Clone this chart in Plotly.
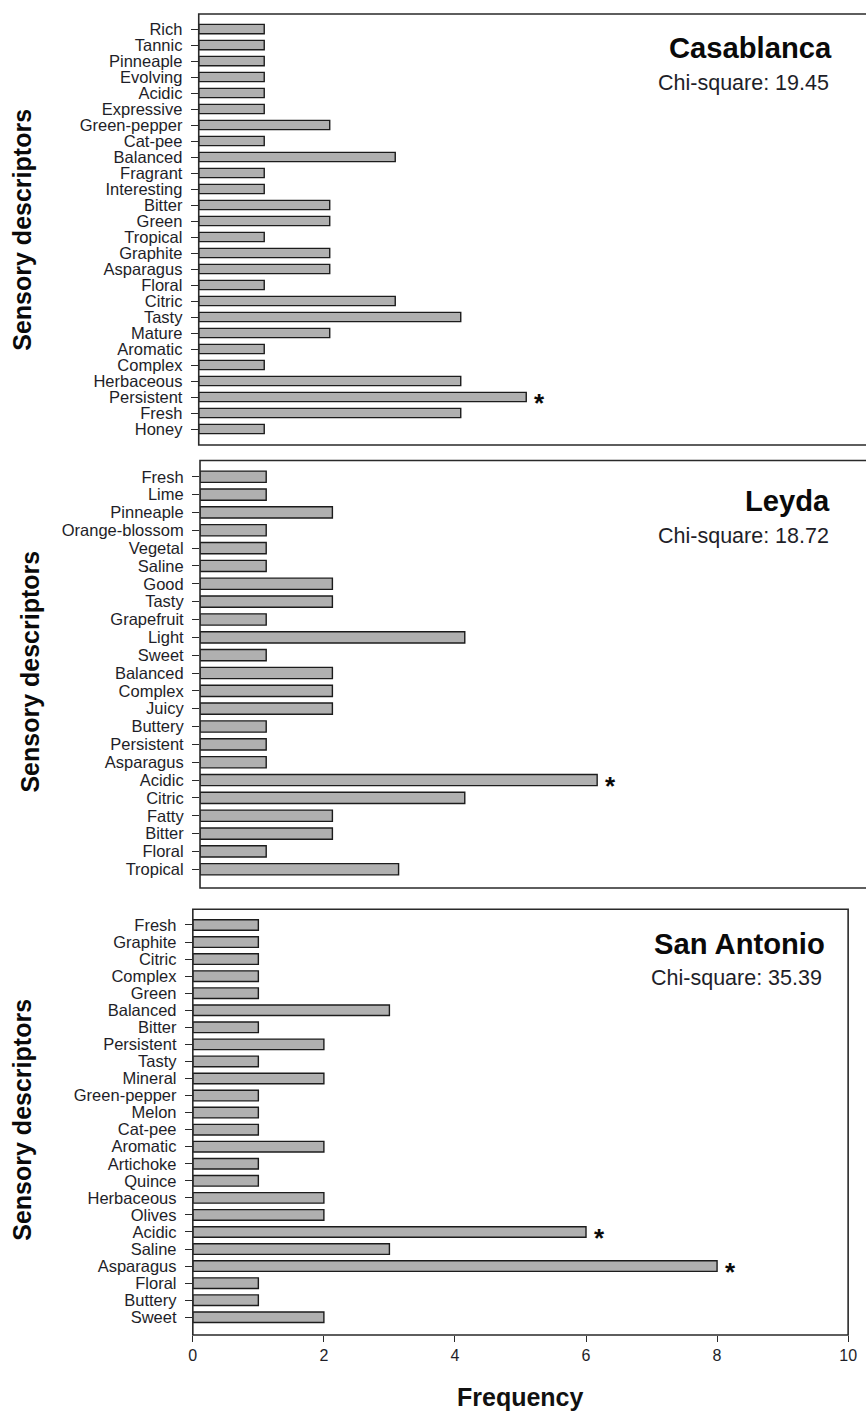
import plotly.graph_objects as go

W, H = 866, 1412

# Casablanca descriptors (top to bottom) and their frequencies
casablanca_terms = ["Rich", "Tannic", "Pinneaple", "Evolving", "Acidic", "Expressive",
                    "Green-pepper", "Cat-pee", "Balanced", "Fragrant", "Interesting",
                    "Bitter", "Green", "Tropical", "Graphite", "Asparagus", "Floral",
                    "Citric", "Tasty", "Mature", "Aromatic", "Complex", "Herbaceous",
                    "Persistent", "Fresh", "Honey"]
casablanca_freq = [1, 1, 1, 1, 1, 1, 2, 1, 3, 1, 1, 2, 2, 1, 2, 2, 1, 3, 4, 2, 1, 1, 4, 5, 4, 1]
casablanca_sig = ["Persistent"]

# Leyda descriptors
leyda_terms = ["Fresh", "Lime", "Pinneaple", "Orange-blossom", "Vegetal", "Saline", "Good",
               "Tasty", "Grapefruit", "Light", "Sweet", "Balanced", "Complex", "Juicy",
               "Buttery", "Persistent", "Asparagus", "Acidic", "Citric", "Fatty", "Bitter",
               "Floral", "Tropical"]
leyda_freq = [1, 1, 2, 1, 1, 1, 2, 2, 1, 4, 1, 2, 2, 2, 1, 1, 1, 6, 4, 2, 2, 1, 3]
leyda_sig = ["Acidic"]

# San Antonio descriptors
sanantonio_terms = ["Fresh", "Graphite", "Citric", "Complex", "Green", "Balanced", "Bitter",
                    "Persistent", "Tasty", "Mineral", "Green-pepper", "Melon", "Cat-pee",
                    "Aromatic", "Artichoke", "Quince", "Herbaceous", "Olives", "Acidic",
                    "Saline", "Asparagus", "Floral", "Buttery", "Sweet"]
sanantonio_freq = [1, 1, 1, 1, 1, 3, 1, 2, 1, 2, 1, 1, 1, 2, 1, 1, 2, 2, 6, 3, 8, 1, 1, 2]
sanantonio_sig = ["Acidic", "Asparagus"]

regions = ["Casablanca", "Leyda", "San Antonio"]
chi_square = ["19.45", "18.72", "35.39"]
x_ticks = [0, 2, 4, 6, 8, 10]


def px_x(v):
    return min(v / W, 1.0)


def px_y(v):
    return 1 - v / H


# panel geometry in pixels: left, right, top, bottom, px per unit, paddings, bar width
panels = [
    dict(terms=casablanca_terms, freq=casablanca_freq, sig=casablanca_sig,
         left=197.7, right=None, top=14, bottom=445, ppu=66.5,
         pt=0.94, pb=1.0, bw=0.58, cut=True,
         title_y=48, chi_y=83, title_r=843, chi_r=840, lab_x=18, lab_y=230),
    dict(terms=leyda_terms, freq=leyda_freq, sig=leyda_sig,
         left=199, right=None, top=460.5, bottom=888, ppu=67.2,
         pt=0.91, pb=1.05, bw=0.63, cut=True,
         title_y=501, chi_y=536, title_r=841, chi_r=840, lab_x=26, lab_y=672),
    dict(terms=sanantonio_terms, freq=sanantonio_freq, sig=sanantonio_sig,
         left=191.7, right=857, top=909.3, bottom=1335, ppu=66.53,
         pt=0.92, pb=1.04, bw=0.62, cut=False,
         title_y=944, chi_y=978, title_r=836, chi_r=833, lab_x=18, lab_y=1120),
]

FONT = "Liberation Sans, Arial, sans-serif"
LINE = "#2a2a2a"

fig = go.Figure()
layout = dict(width=W, height=H, margin=dict(l=0, r=0, t=0, b=0, pad=0),
              paper_bgcolor="white", plot_bgcolor="white", showlegend=False,
              font=dict(family=FONT, color="#1e1e28"))
annotations = []
shapes = []

for i, p in enumerate(panels):
    n = i + 1
    xa = "x" if n == 1 else f"x{n}"
    ya = "y" if n == 1 else f"y{n}"
    fig.add_trace(go.Bar(
        x=p["freq"], y=p["terms"], orientation="h", xaxis=xa, yaxis=ya,
        width=p["bw"], marker=dict(color="#b0b0b0", line=dict(color="#1c1c1c", width=1.4)),
        hoverinfo="x+y",
    ))
    last = n == 3
    d0 = px_x(p["left"])
    d1 = 1.0 if p["right"] is None else px_x(p["right"])
    xmax = 10 if last else (d1 - d0) * W / p["ppu"]
    layout["xaxis" if n == 1 else f"xaxis{n}"] = dict(
        domain=[d0, d1], range=[0, xmax],
        anchor=ya, showgrid=False, zeroline=False, showline=False,
        showticklabels=last, ticks="outside" if last else "",
        ticklen=6, tickwidth=1.4, tickcolor=LINE,
        tickmode="array", tickvals=x_ticks, ticktext=[str(t) for t in x_ticks],
        tickfont=dict(size=16, color="#1e1e28"), ticklabeloverflow="allow",
        fixedrange=True,
    )
    nt = len(p["terms"])
    layout["yaxis" if n == 1 else f"yaxis{n}"] = dict(
        domain=[px_y(p["bottom"]), px_y(p["top"])],
        type="category", categoryorder="array", categoryarray=p["terms"],
        tickmode="array", tickvals=p["terms"], ticktext=p["terms"],
        range=[nt - 1 + p["pb"], -p["pt"]], anchor=xa,
        showgrid=False, zeroline=False, showline=False,
        ticks="outside", ticklen=7, tickwidth=1.4, tickcolor=LINE,
        tickfont=dict(size=16.5, color="#1e1e28"), ticklabelstandoff=5,
        fixedrange=True,
    )
    # panel frame
    x1 = 1.03 if p["cut"] else d1
    shapes.append(dict(type="rect", xref="paper", yref="paper",
                       x0=d0, x1=x1, y0=px_y(p["bottom"]), y1=px_y(p["top"]),
                       line=dict(color=LINE, width=1.6), fillcolor="rgba(0,0,0,0)", layer="above"))
    # region name and chi-square
    annotations.append(dict(text=f"<b>{regions[i]}</b>", xref="paper", yref="paper",
                            x=px_x(p["title_r"]), y=px_y(p["title_y"]), xanchor="right",
                            yanchor="middle", showarrow=False,
                            font=dict(size=29.2, color="#0a0a0a")))
    annotations.append(dict(text=f"Chi-square: {chi_square[i]}", xref="paper", yref="paper",
                            x=px_x(p["chi_r"]), y=px_y(p["chi_y"]), xanchor="right",
                            yanchor="middle", showarrow=False,
                            font=dict(size=21.5, color="#1e1e28")))
    # y-axis label
    annotations.append(dict(text="<b>Sensory descriptors</b>", xref="paper", yref="paper",
                            x=px_x(p["lab_x"]), y=px_y(p["lab_y"]), xanchor="center",
                            yanchor="middle", textangle=-90, showarrow=False,
                            font=dict(size=25, color="#0a0a0a")))
    # significance markers
    for term, f in zip(p["terms"], p["freq"]):
        if term in p["sig"]:
            annotations.append(dict(text="<b>*</b>", xref=xa, yref=ya, x=f, y=term,
                                    xanchor="center", yanchor="middle", xshift=13, yshift=-6,
                                    showarrow=False, font=dict(size=26, color="#0a0a0a")))

# x-axis title under the bottom panel
annotations.append(dict(text="<b>Frequency</b>", xref="paper", yref="paper",
                        x=px_x(524), y=px_y(1397), xanchor="center", yanchor="middle",
                        showarrow=False, font=dict(size=25, color="#111")))

layout["annotations"] = annotations
layout["shapes"] = shapes
fig.update_layout(**layout)
fig.write_html("out.html")
